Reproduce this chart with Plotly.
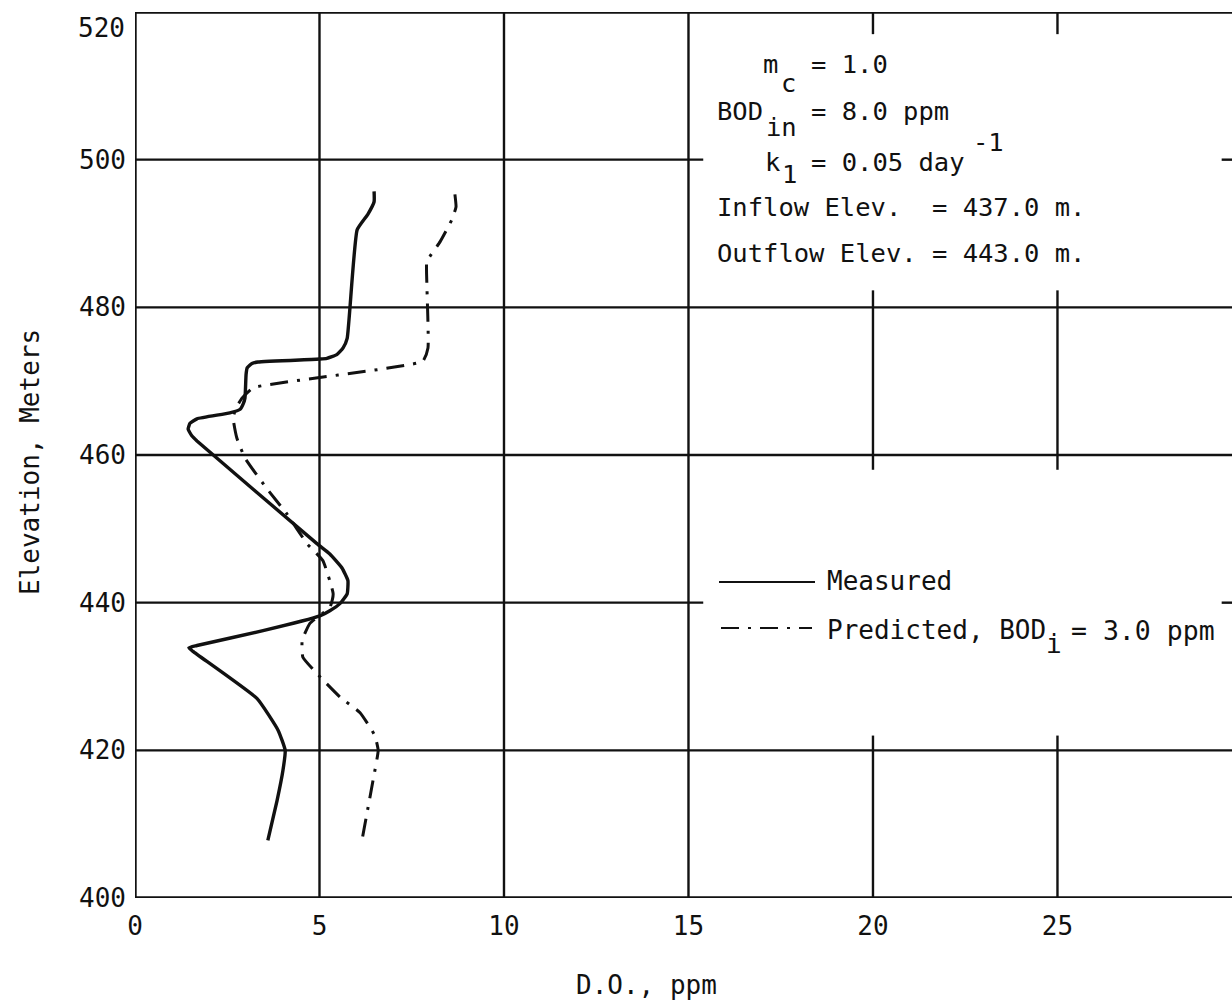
import plotly.graph_objects as go

# Dissolved oxygen profile: measured vs. predicted
measured_do = [6.48, 6.48, 6.31, 6.02, 5.75, 5.64, 5.47, 5.20, 5.01, 3.33, 3.17, 3.04, 3.01,
               2.98, 2.93, 2.85, 2.57, 1.68, 1.49, 1.44, 1.54, 1.68, 4.93, 5.28, 5.61, 5.77,
               5.75, 5.56, 5.28, 5.01, 3.47, 1.68, 1.46, 1.57, 3.31, 3.88, 4.07, 4.01, 3.85, 3.60]
measured_elev = [495.7, 494.3, 492.6, 490.5, 475.8, 474.5, 473.6, 473.1, 473.0, 472.6, 472.4, 471.8, 470.9,
                 467.7, 466.9, 466.2, 465.7, 464.9, 464.3, 463.5, 462.6, 461.9, 448.0, 446.6, 444.7, 443.0,
                 441.2, 439.9, 438.9, 438.2, 436.2, 434.2, 433.9, 433.4, 427.0, 422.7, 420.0, 417.3, 413.2, 407.8]

predicted_do = [8.67, 8.70, 8.59, 8.27, 7.91, 7.91, 7.94, 7.80, 3.20, 2.90, 2.74, 2.66, 2.76, 2.98,
                3.58, 4.12, 4.66, 5.09, 5.37, 5.28, 5.07, 4.74, 4.53, 4.55, 4.93, 5.56, 6.10, 6.50,
                6.59, 6.45, 6.15]
predicted_elev = [495.3, 493.6, 491.9, 488.9, 486.2, 483.1, 474.5, 472.7, 469.1, 467.7, 466.4, 465.0, 462.3, 459.6,
                  455.4, 452.0, 448.0, 445.7, 441.2, 439.3, 438.5, 437.2, 434.9, 432.6, 430.4, 427.2, 425.1, 422.0,
                  420.0, 415.9, 407.8]

x_ticks = [0, 5, 10, 15, 20, 25]
y_ticks = [400, 420, 440, 460, 480, 500]

X_MAX = 29.73
FONT = "DejaVu Sans Mono"
SIZE = 26
NOTE_SIZE = 25.5
INK = "#111111"
DASHDOT = "18px,9px,3px,9px"

# page geometry of the plotting area (pixels)
W, H = 1232, 1008
L, T, B = 135, 12, 110
PW, PH = W - L, H - T - B


def px(xp):
    return (xp - L) / PW


def py(yp):
    return (H - B - yp) / PH


fig = go.Figure()
fig.add_trace(go.Scatter(x=measured_do, y=measured_elev, mode="lines",
                         line=dict(color=INK, width=3.4, shape="spline", smoothing=0.4),
                         showlegend=False, hoverinfo="skip"))
fig.add_trace(go.Scatter(x=predicted_do, y=predicted_elev, mode="lines",
                         line=dict(color=INK, width=3, dash=DASHDOT, shape="spline", smoothing=0.4),
                         showlegend=False, hoverinfo="skip"))

shapes = []


def seg(x0, y0, x1, y1, w=2.4):
    shapes.append(dict(type="line", xref="x", yref="y", x0=x0, y0=y0, x1=x1, y1=y1,
                       line=dict(color=INK, width=w), layer="below"))


# vertical grid lines (broken where the notes sit)
for gx in (5, 10, 15):
    seg(gx, 400, gx, 520)
for gx in (20, 25):
    seg(gx, 517.0, gx, 520)
    seg(gx, 458.0, gx, 482.3)
    seg(gx, 400, gx, 422.0)
# horizontal grid lines
for gy in (420, 460, 480):
    seg(0, gy, X_MAX, gy)
for gy in (440, 500):
    seg(0, gy, 15.4, gy)
    seg(29.45, gy, X_MAX, gy)
# frame: left, bottom, top
seg(0, 400, 0, 520, 3.4)
seg(0, 400, X_MAX, 400, 3.4)
seg(0, 520, X_MAX, 520, 3.4)

# legend samples
shapes.append(dict(type="line", xref="paper", yref="paper", x0=px(719), y0=py(582), x1=px(815), y1=py(582),
                   line=dict(color=INK, width=2)))
shapes.append(dict(type="line", xref="paper", yref="paper", x0=px(721), y0=py(628), x1=px(812), y1=py(628),
                   line=dict(color=INK, width=2, dash=DASHDOT)))

annotations = []


def txt(xp, yp, text, anchor="left", size=SIZE):
    annotations.append(dict(x=px(xp), y=py(yp), xref="paper", yref="paper", text=text,
                            showarrow=False, xanchor=anchor, yanchor="middle", borderpad=0,
                            font=dict(family=FONT, size=size, color=INK)))


S = "&nbsp;"
# parameter notes (subscripts set at full size, dropped below the line)
txt(762, 64, "m", size=NOTE_SIZE)
txt(780, 83, "c", size=NOTE_SIZE)
txt(810, 64, "=" + S + "1.0", size=NOTE_SIZE)
txt(716, 111, "BOD", size=NOTE_SIZE)
txt(765, 127, "in", size=NOTE_SIZE)
txt(810, 111, "=" + S + "8.0" + S + "ppm", size=NOTE_SIZE)
txt(764, 162, "k", size=NOTE_SIZE)
txt(781, 174, "1", size=NOTE_SIZE)
txt(810, 162, "=" + S + "0.05" + S + "day", size=NOTE_SIZE)
txt(972, 142, "-1", size=NOTE_SIZE)
txt(716, 207, "Inflow" + S + "Elev." + S * 2 + "=" + S + "437.0" + S + "m.", size=NOTE_SIZE)
txt(716, 253, "Outflow" + S + "Elev." + S + "=" + S + "443.0" + S + "m.", size=NOTE_SIZE)

# legend labels
txt(826, 581, "Measured")
txt(826, 630, "Predicted," + S + "BOD")
txt(1045, 644, "i")
txt(1070, 630, "=" + S + "3.0" + S + "ppm", size=26.5)

# top tick label and axis titles
txt(126, 28, "520", anchor="right")
txt(646, 985, "D.O.," + S + "ppm", anchor="center")
annotations.append(dict(x=px(30), y=py(462), xref="paper", yref="paper", text="Elevation," + S + "Meters",
                        showarrow=False, xanchor="center", yanchor="middle", textangle=-90,
                        font=dict(family=FONT, size=SIZE, color=INK)))

fig.update_layout(
    width=W, height=H,
    margin=dict(l=L, r=0, t=T, b=B),
    paper_bgcolor="white", plot_bgcolor="white",
    shapes=shapes, annotations=annotations,
    xaxis=dict(range=[0, X_MAX], tickvals=x_ticks, ticktext=[str(v) for v in x_ticks],
               showgrid=False, zeroline=False, showline=False, ticks="",
               ticklabelstandoff=10,
               tickfont=dict(family=FONT, size=SIZE, color=INK)),
    yaxis=dict(range=[400, 520], tickvals=y_ticks, ticktext=[str(v) for v in y_ticks],
               showgrid=False, zeroline=False, showline=False, ticks="",
               ticklabelstandoff=8,
               tickfont=dict(family=FONT, size=SIZE, color=INK)),
)

fig.write_html("out.html")
